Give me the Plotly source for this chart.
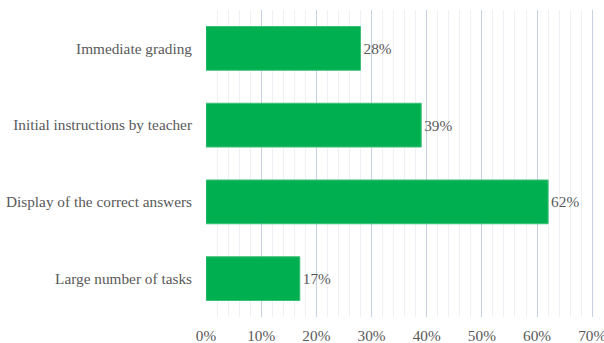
import plotly.graph_objects as go

categories = ["Immediate grading", "Initial instructions by teacher",
              "Display of the correct answers", "Large number of tasks"]
values = [0.28, 0.39, 0.62, 0.17]
labels = ["28%", "39%", "62%", "17%"]
tick_vals = [0, 0.1, 0.2, 0.3, 0.4, 0.5, 0.6, 0.7]
tick_text = ["0%", "10%", "20%", "30%", "40%", "50%", "60%", "70%"]

font_fam = "Liberation Serif"
gray = "#595959"
fs = 15.3

fig = go.Figure(go.Bar(
    y=categories, x=values, orientation="h",
    marker=dict(color="#00B050", line=dict(color="#3DC078", width=1)),
    text=labels, textposition="outside",
    textfont=dict(family=font_fam, size=fs, color=gray),
    cliponaxis=False,
))

fig.update_layout(
    width=604, height=343,
    margin=dict(l=206, r=9, t=10, b=26),
    paper_bgcolor="white", plot_bgcolor="white",
    bargap=0.43,
    showlegend=False,
    font=dict(family=font_fam, size=fs, color=gray),
    xaxis=dict(
        range=[0, 0.705], tickvals=tick_vals, ticktext=tick_text,
        showgrid=True, gridcolor="#C5D0E3", gridwidth=1,
        minor=dict(tickvals=[i / 50 for i in range(35)], showgrid=True,
                   gridcolor="#EEF0F5", gridwidth=1),
        zeroline=False, showline=False, ticks="",
        ticklabeloverflow="allow", ticklabelstandoff=8,
        automargin=False,
        tickfont=dict(family=font_fam, size=fs, color=gray),
    ),
    yaxis=dict(
        autorange="reversed", showgrid=False, zeroline=False,
        showline=False, ticks="",
        ticklabelstandoff=13, automargin=False,
        tickfont=dict(family=font_fam, size=fs, color=gray),
    ),
)

fig.write_html("out.html")
